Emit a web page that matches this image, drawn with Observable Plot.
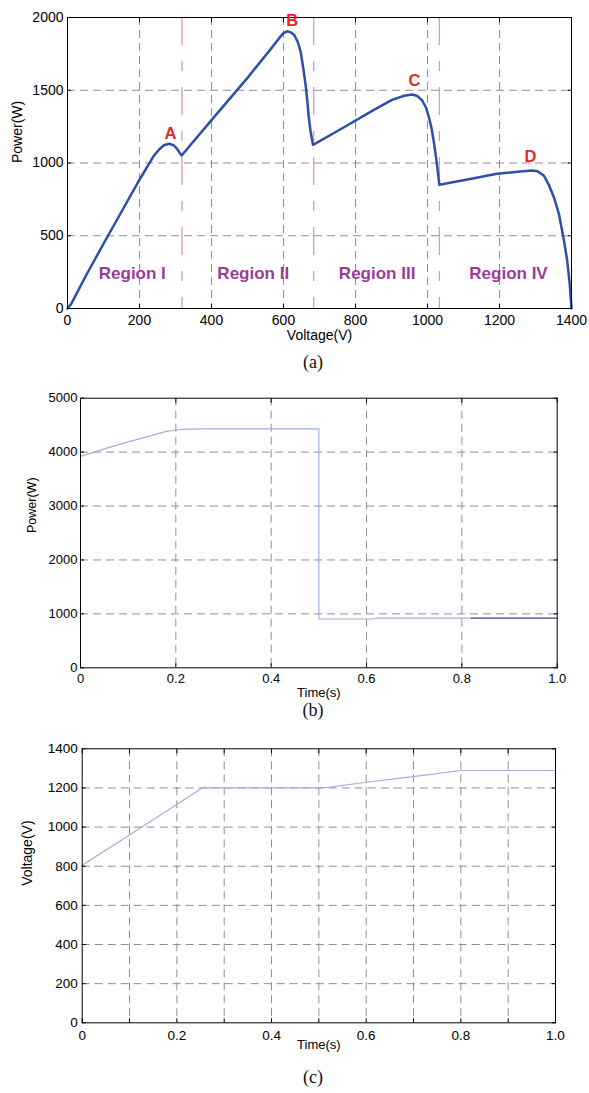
<!DOCTYPE html>
<html>
<head>
<meta charset="utf-8">
<script src="https://cdn.jsdelivr.net/npm/d3@7"></script>
<script src="https://cdn.jsdelivr.net/npm/@observablehq/plot@0.6"></script>
<style>
  html, body { margin: 0; padding: 0; background: white; }
  #root { position: relative; width: 589px; height: 1093px; background: white; overflow: hidden; }
  .panel { position: absolute; left: 0; }
  .cap { position: absolute; left: 263px; width: 100px; text-align: center;
         font-family: "Liberation Serif", "Times New Roman", serif; font-size: 18px; line-height: 20px; color: #111; }
</style>
</head>
<body>
<div id="root">
  <div class="panel" id="pa" style="top:0px"></div>
  <div class="cap" style="top:352px">(a)</div>
  <div class="panel" id="pb" style="top:380px"></div>
  <div class="cap" style="top:700px">(b)</div>
  <div class="panel" id="pc" style="top:730px"></div>
  <div class="cap" style="top:1067px">(c)</div>
</div>
<script>
// ---------- Panel (a): P-V curve ----------
const pvVoltage = [0, 10, 50, 100, 150, 200, 240, 255, 268, 282, 295, 305, 312, 317,
  400, 500, 570, 590, 600, 610, 620, 630, 640, 648, 655, 661, 666, 670, 675, 682,
  750, 850, 900, 935, 957, 972, 985, 995, 1004, 1011, 1017, 1022, 1027, 1033,
  1100, 1193, 1250, 1290, 1305, 1323, 1337, 1351, 1365, 1379, 1388, 1395, 1400];
const pvPower = [0, 30, 220, 445, 665, 885, 1050, 1095, 1122, 1132, 1122, 1095, 1068, 1052,
  1295, 1585, 1800, 1865, 1893, 1905, 1898, 1880, 1830, 1760, 1650, 1545, 1430, 1320, 1220, 1125,
  1220, 1363, 1432, 1462, 1471, 1460, 1430, 1385, 1315, 1240, 1155, 1070, 975, 850,
  882, 926, 940, 948, 944, 914, 850, 765, 651, 467, 330, 170, 0];
const regionDividers = [318, 684, 1033];
const regionNames = ["Region I", "Region II", "Region III", "Region IV"];
const regionV = [180, 516, 860, 1225];
const regionP = [240, 240, 240, 240];
const peakNames = ["A", "B", "C", "D"];
const peakV = [286, 624, 964, 1286];
const peakP = [1203, 1975, 1567, 1040];
const aTicksX = [0, 200, 400, 600, 800, 1000, 1200, 1400];
const aTicksY = [0, 500, 1000, 1500, 2000];

// ---------- Panel (b): power vs time ----------
const bTime = [0, 0.05, 0.1, 0.15, 0.18, 0.21, 0.25, 0.5, 0.5, 0.615, 0.62, 0.82];
const bPower = [3920, 4060, 4190, 4310, 4385, 4420, 4430, 4430, 905, 905, 922, 922];
const bTimeEnd = [0.82, 1.0];
const bPowerEnd = [922, 922];
const bTicksX = [0, 0.2, 0.4, 0.6, 0.8, 1.0];
const bTicksY = [0, 1000, 2000, 3000, 4000, 5000];

// ---------- Panel (c): voltage vs time ----------
const cTime = [0, 0.1, 0.2535, 0.5, 0.52, 0.6, 0.7, 0.8, 1.0];
const cVoltage = [805, 960, 1200, 1200, 1203, 1229, 1258, 1289, 1289];
const cTicksX = [0, 0.1, 0.2, 0.3, 0.4, 0.5, 0.6, 0.7, 0.8, 0.9, 1.0];
const cLabelTicksX = [0, 0.2, 0.4, 0.6, 0.8, 1.0];
const cTicksY = [0, 200, 400, 600, 800, 1000, 1200, 1400];

// ---------- helpers ----------
const FONT = "'Liberation Sans', Arial, Helvetica, sans-serif";
const gridStyle = {stroke: "#8f8f8f", strokeOpacity: 1, strokeDasharray: "8,5", strokeWidth: 1};
const fmtInt = d => String(d);
const fmtTime = d => d === 0 ? "0" : d.toFixed(1);
const interior = (arr) => arr.slice(1, -1);

function boxAxes(xt, yt, xLabelTicks, xFmt, opts) {
  const {fs, padX, padY} = opts;
  return [
    Plot.axisX(xt, {anchor: "bottom", tickSize: -4, tickPadding: padX, label: null,
      tickFormat: d => (xLabelTicks.includes(d) ? xFmt(d) : ""), fontSize: fs, stroke: "black"}),
    Plot.axisX(xt, {anchor: "top", tickSize: -4, label: null, tickFormat: () => "", stroke: "black"}),
    Plot.axisY(yt, {anchor: "left", tickSize: -4, tickPadding: padY, label: null,
      tickFormat: fmtInt, fontSize: fs, stroke: "black"}),
    Plot.axisY(yt, {anchor: "right", tickSize: -4, label: null, tickFormat: () => "", stroke: "black"})
  ];
}

// ---------- Panel (a) ----------
const pvData = pvVoltage.map((v, i) => ({v, p: pvPower[i]}));
const regionData = regionNames.map((n, i) => ({n, v: regionV[i], p: regionP[i]}));
const peakData = peakNames.map((n, i) => ({n, v: peakV[i], p: peakP[i]}));

const plotA = Plot.plot({
  width: 589, height: 350,
  marginLeft: 67, marginRight: 18, marginTop: 17, marginBottom: 42,
  style: {fontFamily: FONT, fontSize: "14px", color: "black", background: "white"},
  x: {domain: [0, 1400]},
  y: {domain: [0, 2000]},
  marks: [
    Plot.gridX(interior(aTicksX), gridStyle),
    Plot.gridY(interior(aTicksY), gridStyle),
    Plot.ruleX(regionDividers, {stroke: "#d796d4", strokeOpacity: 1, strokeWidth: 1.3, strokeDasharray: "28,16,10,16"}),
    Plot.line(pvData, {x: "v", y: "p", stroke: "#2f4ea8", strokeWidth: 2.5, curve: "linear"}),
    Plot.frame({stroke: "black", strokeWidth: 1}),
    ...boxAxes(aTicksX, aTicksY, aTicksX, fmtInt, {fs: 14, padX: 11, padY: 8}),
    Plot.text(regionData, {x: "v", y: "p", text: "n", fill: "#9b3b97", fontWeight: "bold", fontSize: 17}),
    Plot.text(peakData, {x: "v", y: "p", text: "n", fill: "#e8262a", fontWeight: "bold", fontSize: 16.5}),
    Plot.text(["Voltage(V)"], {text: d => d, frameAnchor: "bottom", dy: 31, fontSize: 14}),
    Plot.text(["Power(W)"], {text: d => d, frameAnchor: "left", dx: -50, rotate: -90, fontSize: 14})
  ]
});
document.getElementById("pa").appendChild(plotA);

// ---------- Panel (b) ----------
const bData = bTime.map((t, i) => ({t, p: bPower[i]}));
const bEnd = bTimeEnd.map((t, i) => ({t, p: bPowerEnd[i]}));
const plotB = Plot.plot({
  width: 589, height: 320,
  marginLeft: 80, marginRight: 32.3, marginTop: 17.7, marginBottom: 32.7,
  style: {fontFamily: FONT, fontSize: "13px", color: "black", background: "white"},
  x: {domain: [0, 1]},
  y: {domain: [0, 5000]},
  marks: [
    Plot.gridX(interior(bTicksX), gridStyle),
    Plot.gridY(interior(bTicksY), gridStyle),
    Plot.line(bData, {x: "t", y: "p", stroke: "#9fb0e2", strokeWidth: 1.2}),
    Plot.line(bEnd, {x: "t", y: "p", stroke: "#34468f", strokeWidth: 1.2}),
    Plot.frame({stroke: "black", strokeWidth: 1}),
    ...boxAxes(bTicksX, bTicksY, bTicksX, fmtTime, {fs: 13, padX: 10, padY: 7}),
    Plot.text(["Time(s)"], {text: d => d, frameAnchor: "bottom", dy: 29.5, fontSize: 13}),
    Plot.text(["Power(W)"], {text: d => d, frameAnchor: "left", dx: -48.3, rotate: -90, fontSize: 12.5})
  ]
});
document.getElementById("pb").appendChild(plotB);

// ---------- Panel (c) ----------
const cData = cTime.map((t, i) => ({t, v: cVoltage[i]}));
const plotC = Plot.plot({
  width: 589, height: 330,
  marginLeft: 81.7, marginRight: 34, marginTop: 18.3, marginBottom: 37.7,
  style: {fontFamily: FONT, fontSize: "13.5px", color: "black", background: "white"},
  x: {domain: [0, 1]},
  y: {domain: [0, 1400]},
  marks: [
    Plot.gridX(interior(cTicksX), gridStyle),
    Plot.gridY(interior(cTicksY), gridStyle),
    Plot.line(cData, {x: "t", y: "v", stroke: "#9fb0e2", strokeWidth: 1.2}),
    Plot.frame({stroke: "black", strokeWidth: 1}),
    ...boxAxes(cTicksX, cTicksY, cLabelTicksX, fmtTime, {fs: 13.5, padX: 12, padY: 8.4}),
    Plot.text(["Time(s)"], {text: d => d, frameAnchor: "bottom", dy: 26, fontSize: 13}),
    Plot.text(["Voltage(V)"], {text: d => d, frameAnchor: "left", dx: -55, rotate: -90, fontSize: 14})
  ]
});
document.getElementById("pc").appendChild(plotC);
</script>
</body>
</html>
